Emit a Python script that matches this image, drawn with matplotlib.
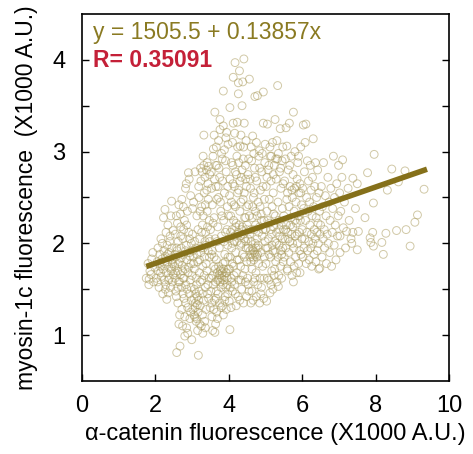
import numpy as np
import matplotlib
matplotlib.use("Agg")
import matplotlib.pyplot as plt

# alpha-catenin vs myosin-1c fluorescence per cell (X1000 A.U.)
cells = [
    # x < 2
    (1.75,1.62),(1.80,1.78),(1.83,1.61),(1.85,1.70),(1.88,1.66),(1.90,1.83),(1.93,1.90),(1.95,1.58),(1.98,1.74),(1.82,1.55),
    # 2.0 - 2.5
    (2.02,1.62),(2.05,1.80),(2.07,1.95),(2.08,1.70),(2.10,1.52),(2.12,1.88),(2.13,1.75),(2.15,2.05),(2.16,1.64),(2.18,1.83),
    (2.20,1.45),(2.21,1.72),(2.22,2.28),(2.23,1.92),(2.24,1.60),(2.25,1.78),(2.26,2.37),(2.27,1.86),(2.28,1.55),(2.29,2.12),
    (2.30,1.68),(2.31,1.39),(2.32,1.98),(2.33,1.80),(2.34,2.20),(2.35,1.46),(2.36,1.74),(2.37,1.90),(2.38,1.62),(2.39,2.02),
    (2.40,1.84),(2.41,1.52),(2.42,2.30),(2.43,1.70),(2.44,2.46),(2.45,1.95),(2.46,1.58),(2.47,1.78),(2.48,2.14),(2.49,1.66),
    (2.06,1.58),(2.14,1.68),(2.19,2.00),(2.27,1.50),(2.34,1.88),(2.40,2.08),(2.46,1.82),(2.11,1.78),(2.36,1.60),(2.44,1.72),
    # 2.5 - 3.0
    (2.52,1.75),(2.53,1.62),(2.54,2.10),(2.55,1.85),(2.56,1.48),(2.57,2.30),(2.58,0.81),(2.59,1.92),(2.60,1.70),(2.61,1.35),
    (2.62,2.02),(2.63,1.58),(2.64,2.42),(2.65,1.80),(2.66,1.22),(2.67,0.88),(2.68,1.66),(2.69,2.18),(2.70,1.95),(2.71,1.52),
    (2.72,2.48),(2.73,1.76),(2.74,1.10),(2.75,2.05),(2.76,1.62),(2.77,1.88),(2.78,1.40),(2.79,2.25),(2.80,0.99),(2.81,1.72),
    (2.82,2.60),(2.83,1.55),(2.84,1.98),(2.85,1.08),(2.86,1.82),(2.87,2.35),(2.88,1.30),(2.89,1.68),(2.90,2.77),(2.91,2.12),
    (2.92,1.45),(2.93,1.90),(2.94,1.18),(2.95,1.60),(2.96,2.52),(2.97,1.78),(2.98,2.00),(2.99,0.95),(2.55,1.68),(2.58,1.95),
    (2.62,1.78),(2.66,1.58),(2.70,1.84),(2.74,1.70),(2.78,1.62),(2.82,1.92),(2.86,1.50),(2.90,1.74),(2.94,1.86),(2.98,1.38),
    (2.60,2.22),(2.68,2.32),(2.76,2.40),(2.84,2.65),(2.92,2.70),(2.64,1.12),(2.72,1.28),(2.80,1.20),(2.88,1.02),(2.96,1.25),
    (2.53,1.88),(2.61,1.52),(2.69,2.08),(2.77,2.15),(2.85,2.20),(2.93,2.05),(2.57,1.42),(2.75,1.45),(2.83,1.35),(2.97,1.52),
    # 3.0 - 3.5
    (3.00,1.65),(3.01,2.10),(3.02,1.28),(3.03,1.85),(3.04,2.45),(3.05,1.40),(3.06,1.72),(3.07,1.20),(3.08,2.78),(3.09,1.35),
    (3.10,1.95),(3.11,1.15),(3.12,1.55),(3.13,2.30),(3.14,1.42),(3.15,1.80),(3.16,1.25),(3.17,0.78),(3.18,2.62),(3.19,1.48),
    (3.20,1.68),(3.21,2.05),(3.22,1.32),(3.23,2.82),(3.24,1.90),(3.25,1.10),(3.26,2.40),(3.27,1.60),(3.28,2.20),(3.29,1.75),
    (3.30,2.95),(3.31,1.38),(3.32,3.18),(3.33,2.55),(3.34,1.85),(3.35,2.72),(3.36,1.52),(3.37,2.12),(3.38,1.98),(3.39,2.80),
    (3.40,1.70),(3.41,2.35),(3.42,1.45),(3.43,2.65),(3.44,1.92),(3.45,2.84),(3.46,1.62),(3.47,2.25),(3.48,2.02),(3.49,1.30),
    (3.05,1.22),(3.08,1.30),(3.10,1.45),(3.12,1.18),(3.14,1.33),(3.06,1.50),(3.15,1.05),(3.18,1.38),(3.11,1.62),(3.04,1.78),
    (3.02,1.92),(3.07,2.02),(3.13,1.88),(3.16,2.15),(3.20,1.82),(3.22,1.58),(3.25,1.95),(3.28,1.45),(3.30,2.30),(3.33,1.65),
    (3.36,2.42),(3.38,1.78),(3.40,2.58),(3.43,1.55),(3.46,2.05),(3.48,2.75),(3.24,2.68),(3.27,2.78),(3.32,2.85),(3.35,2.02),
    (3.41,2.88),(3.44,2.48),(3.19,2.50),(3.22,2.35),(3.28,1.22),(3.34,1.15),(3.38,1.28),(3.45,1.40),(3.47,1.85),(3.42,2.18),
    (3.31,1.95),(3.26,2.12),(3.21,1.12),(3.29,1.02),(3.36,1.08),(3.01,2.38),
    # 3.5 - 4.0
    (3.50,2.15),(3.51,1.48),(3.52,2.78),(3.53,1.88),(3.54,1.20),(3.55,2.42),(3.56,1.65),(3.57,2.95),(3.58,3.03),(3.59,1.75),
    (3.60,2.28),(3.61,1.38),(3.62,3.43),(3.62,1.03),(3.63,2.05),(3.64,1.58),(3.65,2.62),(3.66,1.82),(3.67,1.25),(3.68,2.85),
    (3.69,1.68),(3.70,2.18),(3.71,1.45),(3.72,2.50),(3.73,1.62),(3.74,1.95),(3.75,2.72),(3.76,3.35),(3.76,3.24),(3.77,1.70),
    (3.78,2.35),(3.79,1.52),(3.80,2.08),(3.81,1.65),(3.82,2.92),(3.83,1.32),(3.84,1.78),(3.85,3.66),(3.85,3.28),(3.86,2.25),
    (3.87,1.60),(3.88,2.55),(3.89,1.88),(3.90,1.42),(3.91,2.12),(3.92,1.68),(3.93,2.78),(3.94,3.21),(3.95,1.55),(3.96,2.40),
    (3.97,1.98),(3.98,3.08),(3.99,1.72),
    (3.52,1.62),(3.55,1.92),(3.58,1.55),(3.60,1.85),(3.63,1.72),(3.66,1.48),(3.68,2.02),(3.70,1.60),(3.72,1.75),(3.74,1.66),
    (3.76,1.58),(3.78,1.72),(3.80,1.62),(3.82,1.68),(3.84,1.55),(3.86,1.72),(3.88,1.64),(3.90,1.80),(3.92,1.52),(3.94,1.68),
    (3.96,1.62),(3.98,1.85),
    (3.53,2.60),(3.57,2.22),(3.61,2.70),(3.64,2.85),(3.67,2.48),(3.71,2.62),(3.73,2.82),(3.77,2.45),(3.81,2.30),(3.83,2.68),
    (3.87,2.02),(3.91,2.90),(3.95,2.15),(3.97,2.62),(3.99,2.30),
    (3.54,1.35),(3.59,1.28),(3.65,1.40),(3.69,1.18),(3.75,1.35),(3.79,1.30),(3.85,1.22),(3.89,1.38),(3.93,1.28),(3.97,1.45),
    (3.56,1.05),(3.64,1.12),(3.66,3.05),(3.72,3.12),(3.80,2.98),(3.88,3.02),(3.92,3.15),(3.60,3.18),
    # 4.0 - 4.5
    (4.00,2.05),(4.01,1.37),(4.02,2.52),(4.03,3.48),(4.03,1.06),(4.04,1.85),(4.05,2.30),(4.06,1.62),(4.07,2.88),(4.08,1.95),
    (4.09,2.15),(4.10,1.48),(4.11,2.65),(4.12,3.81),(4.12,3.31),(4.13,1.75),(4.14,2.42),(4.15,2.02),(4.16,1.55),(4.17,3.97),
    (4.18,2.78),(4.19,1.90),(4.20,2.22),(4.21,1.68),(4.22,2.95),(4.23,3.32),(4.24,2.10),(4.25,1.42),(4.26,3.75),(4.26,3.63),
    (4.27,2.58),(4.28,1.82),(4.29,3.88),(4.30,2.35),(4.31,3.06),(4.32,1.98),(4.33,1.60),(4.34,2.72),(4.35,2.15),(4.36,3.50),
    (4.37,1.88),(4.38,3.76),(4.39,2.48),(4.40,1.35),(4.41,4.01),(4.42,3.31),(4.43,2.05),(4.44,1.72),(4.45,2.85),(4.46,2.28),
    (4.47,1.95),(4.48,2.62),(4.49,1.80),
    (4.02,1.72),(4.05,2.12),(4.08,1.58),(4.10,2.00),(4.13,2.25),(4.16,2.08),(4.19,2.18),(4.22,2.02),(4.25,2.12),(4.28,2.20),
    (4.31,2.08),(4.34,2.00),(4.37,2.18),(4.40,2.10),(4.43,2.28),(4.46,2.02),(4.48,2.15),
    (4.03,2.70),(4.07,2.45),(4.11,2.85),(4.15,2.62),(4.18,2.40),(4.21,2.75),(4.24,2.55),(4.27,2.88),(4.30,2.68),(4.33,2.45),
    (4.36,2.80),(4.39,2.92),(4.42,2.55),(4.46,2.70),(4.49,2.40),
    (4.04,1.52),(4.09,1.78),(4.14,1.65),(4.18,1.45),(4.23,1.82),(4.27,1.60),(4.32,1.75),(4.35,1.50),(4.38,1.65),(4.42,1.85),
    (4.45,1.58),(4.48,1.42),(4.06,1.30),(4.20,1.32),(4.30,1.38),
    (4.10,3.10),(4.16,3.20),(4.24,3.05),(4.33,3.18),(4.40,3.05),(4.47,3.12),
    # 4.5 - 5.0
    (4.50,2.20),(4.51,1.62),(4.52,2.75),(4.53,1.95),(4.54,2.42),(4.55,1.48),(4.56,3.79),(4.57,2.10),(4.58,1.85),(4.59,2.60),
    (4.60,1.35),(4.61,2.02),(4.62,2.90),(4.63,1.72),(4.64,2.28),(4.65,3.17),(4.66,1.92),(4.67,2.50),(4.68,1.58),(4.69,2.15),
    (4.70,2.82),(4.71,3.60),(4.72,1.88),(4.73,2.35),(4.74,1.68),(4.75,1.42),(4.76,2.68),(4.77,2.05),(4.78,3.61),(4.79,1.95),
    (4.80,2.45),(4.81,1.78),(4.82,2.95),(4.83,3.01),(4.84,2.18),(4.85,1.62),(4.86,2.58),(4.87,1.90),(4.88,2.32),(4.89,1.52),
    (4.90,2.78),(4.91,2.08),(4.92,1.75),(4.93,2.62),(4.94,3.65),(4.94,3.31),(4.95,1.40),(4.96,2.25),(4.97,1.85),(4.98,2.88),
    (4.99,2.02),
    (4.58,1.92),(4.62,1.88),(4.66,1.85),(4.70,1.90),(4.74,1.95),(4.78,1.88),(4.64,1.95),(4.68,1.82),(4.72,2.00),(4.76,1.85),
    (4.60,1.80),(4.80,1.98),
    (4.52,2.05),(4.56,2.30),(4.60,2.15),(4.65,2.40),(4.69,2.55),(4.73,2.20),(4.77,2.30),(4.81,2.12),(4.85,2.40),(4.89,2.25),
    (4.93,2.15),(4.97,2.48),
    (4.54,2.92),(4.61,3.05),(4.68,2.98),(4.75,3.10),(4.84,2.82),(4.91,2.98),(4.99,3.08),(4.58,2.70),(4.72,2.72),
    (4.53,1.55),(4.63,1.48),(4.71,1.62),(4.79,1.55),(4.87,1.45),(4.96,1.62),(4.66,1.38),(4.84,1.35),
    # 5.0 - 5.5
    (5.00,2.15),(5.01,1.78),(5.02,2.62),(5.03,1.37),(5.04,2.35),(5.05,3.30),(5.06,1.95),(5.07,2.80),(5.08,2.05),(5.09,1.60),
    (5.10,2.48),(5.11,2.22),(5.12,1.46),(5.13,2.95),(5.14,1.85),(5.15,2.68),(5.16,2.10),(5.17,1.70),(5.18,2.40),(5.19,3.10),
    (5.20,1.92),(5.21,2.55),(5.22,2.18),(5.23,1.65),(5.24,2.85),(5.25,2.02),(5.26,3.35),(5.27,2.30),(5.28,1.80),(5.29,2.70),
    (5.30,2.12),(5.31,1.58),(5.32,2.92),(5.33,3.72),(5.34,2.45),(5.35,1.53),(5.36,2.25),(5.37,1.98),(5.38,2.78),(5.39,2.08),
    (5.40,3.25),(5.41,1.75),(5.42,2.60),(5.43,2.20),(5.44,1.88),(5.45,2.90),(5.46,2.38),(5.47,1.95),(5.48,2.65),(5.49,2.15),
    (5.02,1.95),(5.06,2.25),(5.10,1.88),(5.14,2.15),(5.18,1.98),(5.22,2.32),(5.26,1.90),(5.30,2.00),(5.34,1.85),(5.38,2.15),
    (5.42,1.92),(5.46,2.05),
    (5.04,2.72),(5.09,2.85),(5.16,2.95),(5.21,2.75),(5.28,2.92),(5.35,2.98),(5.41,2.82),(5.47,3.05),(5.12,3.05),(5.31,3.12),
    (5.05,1.62),(5.15,1.55),(5.25,1.72),(5.36,1.65),(5.44,1.62),(5.48,1.80),(5.20,1.50),
    # 5.5 - 6.0
    (5.50,2.30),(5.51,1.85),(5.52,2.68),(5.53,2.05),(5.54,2.92),(5.55,1.95),(5.56,3.26),(5.57,2.20),(5.58,3.06),(5.59,1.72),
    (5.60,2.55),(5.61,2.12),(5.62,2.80),(5.63,1.90),(5.64,2.40),(5.65,3.31),(5.66,2.02),(5.67,2.62),(5.68,1.80),(5.69,2.28),
    (5.70,2.95),(5.71,2.10),(5.72,1.65),(5.73,2.50),(5.74,2.18),(5.75,2.75),(5.76,3.43),(5.76,1.58),(5.77,1.95),(5.78,2.35),
    (5.79,2.60),(5.80,3.00),(5.81,2.08),(5.82,1.85),(5.83,2.45),(5.84,2.22),(5.85,1.68),(5.86,2.70),(5.87,2.00),(5.88,2.88),
    (5.89,2.30),(5.90,1.78),(5.91,2.55),(5.92,2.12),(5.93,1.92),(5.94,2.65),(5.95,2.25),(5.96,3.05),(5.97,1.88),(5.98,2.42),
    (5.99,2.05),
    (5.55,2.15),(5.62,2.05),(5.68,2.20),(5.74,2.00),(5.80,2.25),(5.86,2.10),(5.92,2.30),(5.58,2.48),(5.72,2.58),(5.84,2.62),
    (5.96,2.55),(5.60,1.70),(5.78,1.75),(5.94,1.68),(5.66,2.85),(5.90,2.95),
    # 6.0 - 6.5
    (6.00,2.15),(6.01,2.60),(6.02,1.85),(6.03,3.29),(6.04,2.38),(6.05,1.95),(6.06,2.78),(6.07,2.05),(6.08,3.10),(6.09,2.25),
    (6.10,3.30),(6.11,1.78),(6.12,2.50),(6.13,2.12),(6.14,2.90),(6.15,1.92),(6.16,2.35),(6.17,2.68),(6.18,2.02),(6.19,1.82),
    (6.20,2.45),(6.21,2.20),(6.22,2.85),(6.23,1.95),(6.24,2.58),(6.25,2.10),(6.26,1.75),(6.27,2.30),(6.28,2.72),(6.29,2.00),
    (6.30,3.14),(6.31,2.40),(6.32,1.88),(6.33,2.15),(6.34,2.62),(6.35,2.05),(6.36,2.88),(6.37,1.80),(6.38,2.28),(6.39,2.50),
    (6.40,2.12),(6.41,1.92),(6.42,2.80),(6.43,2.22),(6.44,2.00),(6.45,1.72),(6.46,2.55),(6.47,2.35),(6.48,1.73),(6.49,2.10),
    # 6.5 - 7.0
    (6.50,2.20),(6.52,2.62),(6.54,1.85),(6.55,2.40),(6.57,2.05),(6.58,2.88),(6.60,2.15),(6.61,1.95),(6.63,2.52),(6.65,2.30),
    (6.66,1.78),(6.68,2.10),(6.70,2.72),(6.71,2.00),(6.73,2.45),(6.75,1.90),(6.76,2.25),(6.78,2.60),(6.80,1.75),(6.82,2.12),
    (6.83,2.38),(6.85,2.95),(6.87,1.98),(6.88,2.50),(6.90,2.20),(6.92,1.82),(6.94,2.65),(6.96,2.08),(6.98,2.30),(6.99,2.85),
    # > 7
    (7.02,2.55),(7.03,2.08),(7.03,1.90),(7.05,2.35),(7.08,2.72),(7.10,2.91),(7.12,2.17),(7.15,2.45),(7.18,1.95),(7.21,2.13),
    (7.25,2.60),(7.28,2.25),(7.33,2.05),(7.35,2.00),(7.38,2.12),(7.38,2.71),(7.45,2.38),(7.50,2.65),(7.50,1.93),(7.53,2.13),
    (7.71,2.28),(7.78,2.77),(7.85,2.06),(7.87,2.01),(7.92,2.12),(7.94,2.44),(7.94,1.97),(7.96,2.97),(8.17,2.01),(8.21,1.88),
    (8.28,2.11),(8.32,2.58),(8.44,2.81),(8.57,2.14),(8.62,2.67),(8.80,2.79),(8.83,2.15),(8.94,1.97),(9.07,2.23),(9.14,2.31),
    (9.32,2.59),
]

# fit reported on the figure (raw units), plotted in X1000 units
intercept = 1505.5
slope = 0.13857
r_value = 0.35091

xs, ys = np.array(cells).T

plt.rcParams['font.family'] = ['Liberation Sans', 'DejaVu Sans']
fig = plt.figure(figsize=(4.73, 4.54), dpi=100)
ax = fig.add_axes([0.1734, 0.1608, 0.7759, 0.8084])

ax.scatter(xs, ys, s=32, facecolors='none', edgecolors='#ab9c5e', linewidths=0.7, alpha=0.55)

xfit = np.array([xs.min(), xs.max() + 0.08])
ax.plot(xfit, intercept / 1000 + slope * xfit, color='#85701a', lw=4, solid_capstyle='butt')

ax.set_xlim(0, 10)
ax.set_ylim(0.5, 4.5)
ax.set_xticks([0, 2, 4, 6, 8, 10])
ax.set_yticks([1, 2, 3, 4])
ax.set_yticks([1.5, 2.5, 3.5], minor=True)
ax.tick_params(axis='x', direction='in', length=5, width=1, labelsize=17, pad=10, top=False)
ax.tick_params(axis='y', which='both', direction='in', length=5, width=1, labelsize=17, pad=12, right=True)
for s in ax.spines.values():
    s.set_linewidth(1.2)

ax.set_xlabel('α-catenin fluorescence (X1000 A.U.)', fontsize=17)
ax.set_ylabel('myosin-1c fluorescence  (X1000 A.U.)', fontsize=16.5)
ax.xaxis.set_label_coords(0.526, -0.115)
ax.yaxis.set_label_coords(-0.12, 0.5)

ax.text(0.03, 0.982, 'y = %.1f + %.5fx' % (intercept, slope), transform=ax.transAxes,
        fontsize=16.5, color='#8a7a22', va='top', ha='left')
ax.text(0.03, 0.905, 'R= %.5f' % r_value, transform=ax.transAxes,
        fontsize=16.5, color='#c42038', fontweight='bold', va='top', ha='left')

plt.savefig('out.png', dpi=100)
